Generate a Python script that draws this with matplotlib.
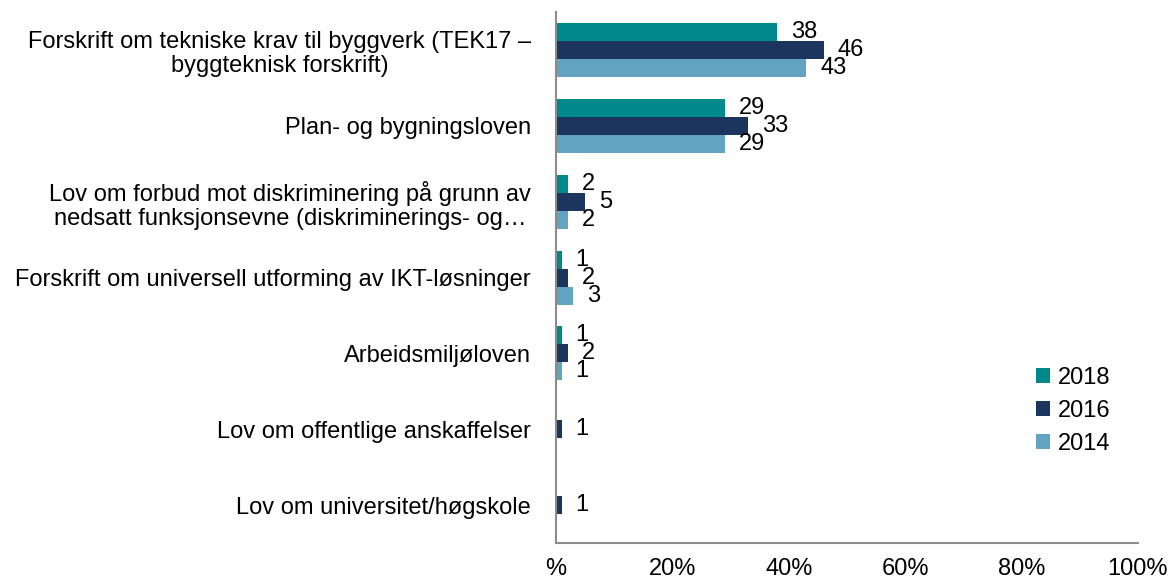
import numpy as np
import matplotlib
matplotlib.use("Agg")
import matplotlib.pyplot as plt
from matplotlib.patches import Patch

plt.rcParams["font.family"] = ["Liberation Sans", "DejaVu Sans"]

categories = [
    "Forskrift om tekniske krav til byggverk (TEK17 –\nbyggteknisk forskrift)",
    "Plan- og bygningsloven",
    "Lov om forbud mot diskriminering på grunn av\nnedsatt funksjonsevne (diskriminerings- og…",
    "Forskrift om universell utforming av IKT-løsninger",
    "Arbeidsmiljøloven",
    "Lov om offentlige anskaffelser",
    "Lov om universitet/høgskole",
]
years = ["2018", "2016", "2014"]
v2018 = [38, 29, 2, 1, 1, 0, 0]
v2016 = [46, 33, 5, 2, 2, 1, 1]
v2014 = [43, 29, 2, 3, 1, 0, 0]
x_ticks = [0, 20, 40, 60, 80, 100]
x_ticklabels = ["%", "20%", "40%", "60%", "80%", "100%"]

colors = ["#00898A", "#1C355E", "#62A3C2"]
FS = 17

fig = plt.figure(figsize=(11.7, 5.82), dpi=100)
ax = fig.add_axes([0.4752, 0.067, 0.4974, 0.912])

y = np.arange(len(categories))
h = 0.237
for i, (vals, col, yr) in enumerate(zip([v2018, v2016, v2014], colors, years)):
    pos = y + (i - 1) * h
    ax.barh(pos, vals, height=h, color=col, label=yr)
    for p, v in zip(pos, vals):
        if v > 0:
            ax.annotate(str(v), (v, p), xytext=(10, 0), textcoords="offset points",
                        ha="left", va="center", fontsize=FS, color="black")

ax.set_ylim(len(categories) - 0.5, -0.5)
ax.set_xlim(0, 100)
ax.set_xticks(x_ticks)
ax.set_xticklabels(x_ticklabels, fontsize=FS)
ax.set_yticks(y)
ax.set_yticklabels(categories, fontsize=FS, multialignment="center", linespacing=1.15)
ax.tick_params(axis="both", length=0)
ax.tick_params(axis="x", pad=11)
ax.tick_params(axis="y", pad=18)
for s in ["top", "right"]:
    ax.spines[s].set_visible(False)
for s in ["left", "bottom"]:
    ax.spines[s].set_color("#8C8C8C")
    ax.spines[s].set_linewidth(1.5)

handles = [Patch(facecolor=c, label=yr) for c, yr in zip(colors, years)]
fig.legend(handles=handles, loc="upper left", bbox_to_anchor=(1015 / 1170, 1 - 346 / 582),
           frameon=False, fontsize=FS, handlelength=0.6, handleheight=0.6,
           handletextpad=0.3, labelspacing=0.45)

fig.savefig("out.png", dpi=100, facecolor="white")
